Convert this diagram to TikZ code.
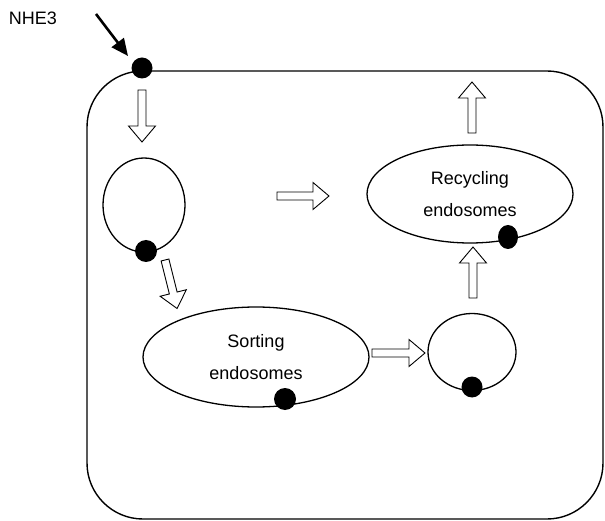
\documentclass[tikz,border=0pt]{standalone}
\usepackage{fontspec}
\setmainfont{Liberation Sans}
\usetikzlibrary{shapes.geometric,arrows.meta}
\tikzset{
  cellline/.style={line width=1.4pt, rounded corners=56pt},
  vesicle/.style={draw, ellipse, line width=1.3pt, inner sep=0pt, align=center,
    font=\fontsize{18}{32}\selectfont},
  dotmark/.style={fill=black, ellipse, inner sep=0pt, minimum width=22pt, minimum height=22pt},
  hollow/.style={draw=black, fill=white, line width=0.9pt, line join=miter},
  lbl/.style={font=\fontsize{18}{22}\selectfont, inner sep=0pt}
}
\newcommand\harrow[4]{%
  \begin{scope}[shift={(#1,#2)},rotate=#3]
    \draw[hollow] (0,-4) -- ({#4-16},-4) -- ({#4-16},-13.5) -- (#4,0)
      -- ({#4-16},13.5) -- ({#4-16},4) -- (0,4) -- cycle;
  \end{scope}}
\begin{document}
\begin{tikzpicture}[x=1pt,y=-1pt]
\useasboundingbox (0,0) rectangle (605,521);
% cell outline
\draw[cellline] (87,71) rectangle (603,519);
% vesicles
\node[vesicle, minimum width=82pt, minimum height=94pt] (early) at (144,205) {};
\node[vesicle, minimum width=226pt, minimum height=100pt] (sort) at (256,357) {Sorting\\endosomes};
\node[vesicle, minimum width=206pt, minimum height=98pt] (rec) at (470,194) {Recycling\\endosomes};
\node[vesicle, minimum width=88pt, minimum height=77pt] (small) at (472,352) {};
% NHE3 dots
\node[dotmark, minimum width=21pt, minimum height=21pt] (topdot) at (142,68) {};
\node[dotmark] (earlydot) at (146,251) {};
\node[dotmark] (sortdot) at (285,399) {};
\node[dotmark, minimum width=20pt, minimum height=24pt] (recdot) at (508,237) {};
\node[dotmark, minimum width=21pt, minimum height=21pt] (smalldot) at (472,387) {};
% label and arrow
\node[lbl] (nhe) at (33,18) {NHE3};
\coordinate (nhetail) at (96,14);
\coordinate (nhetip) at (128,56);
\draw[line width=2.6pt, -{Triangle[length=17pt,width=15pt]}] (nhetail) -- (nhetip);
% hollow arrows
\harrow{142}{90}{-90}{52}
\harrow{165}{260}{-76}{50}
\harrow{277}{196}{0}{52}
\harrow{372}{353}{0}{53}
\harrow{473}{298}{90}{51}
\harrow{472}{133}{90}{51}
\end{tikzpicture}
\end{document}
